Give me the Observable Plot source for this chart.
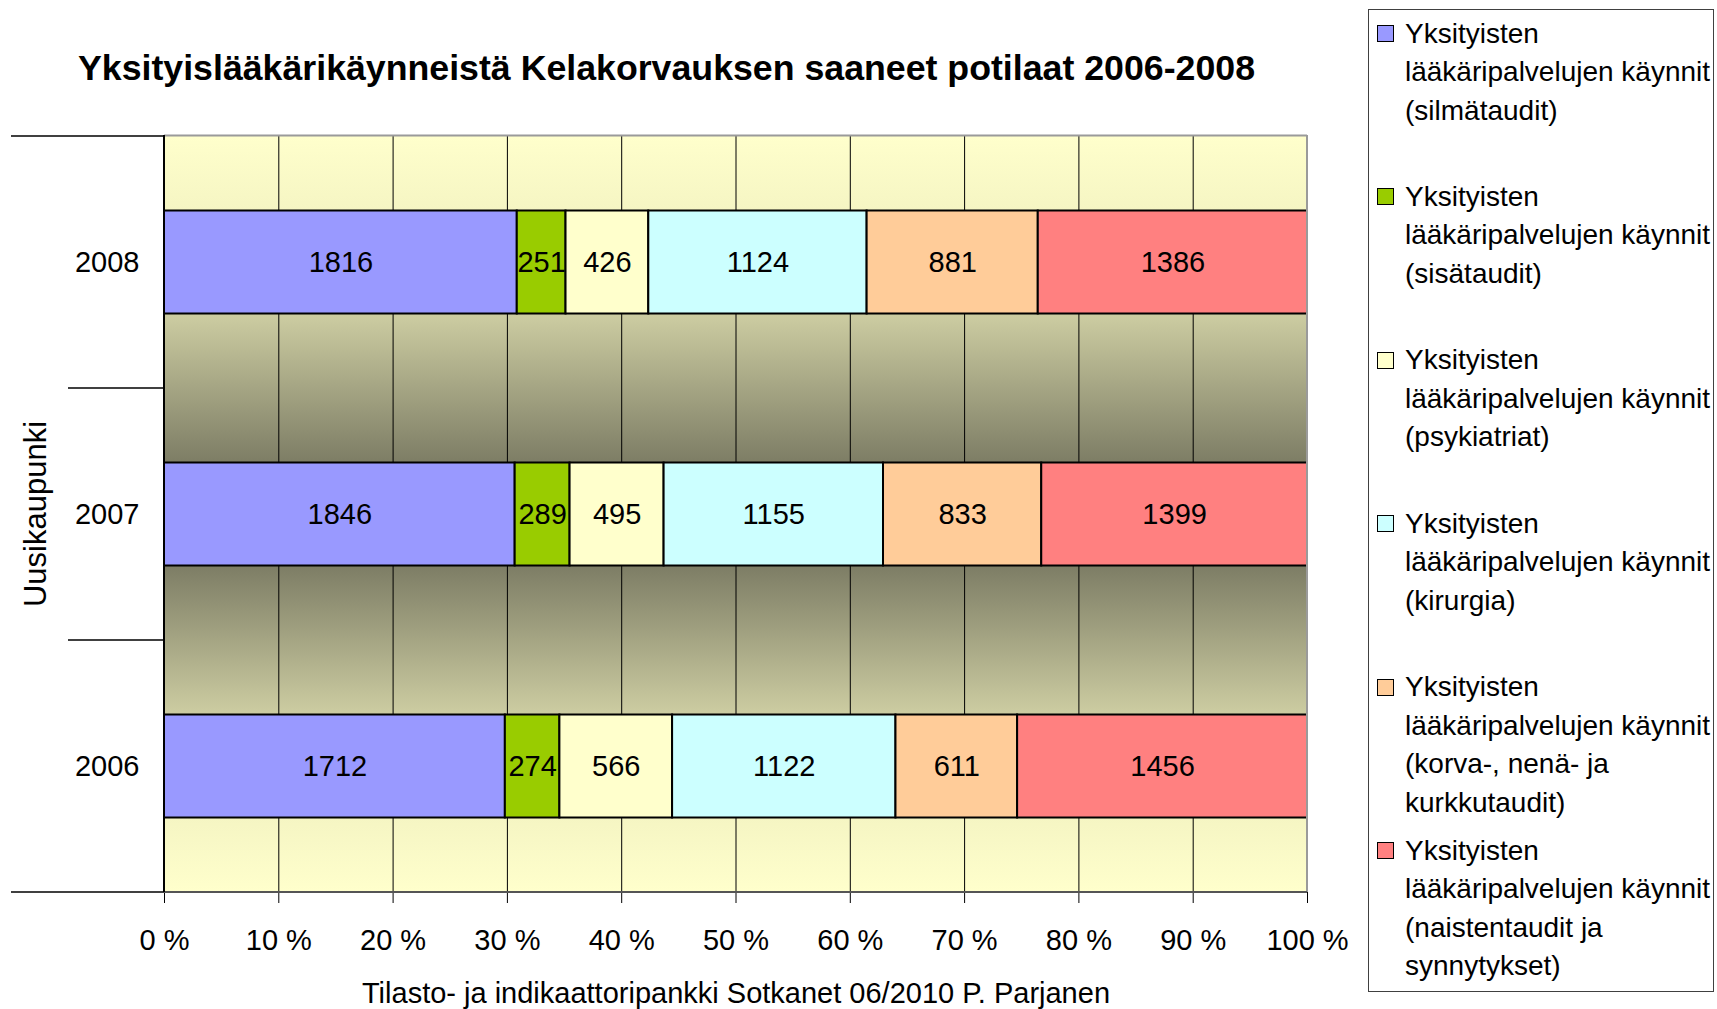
<!DOCTYPE html>
<html><head><meta charset="utf-8">
<script src="https://cdn.jsdelivr.net/npm/d3@7"></script>
<script src="https://cdn.jsdelivr.net/npm/@observablehq/plot@0.6"></script>
<style>
html,body{margin:0;padding:0;background:#fff;}
#wrap{position:relative;width:1717px;height:1009px;overflow:hidden;font-family:'Liberation Sans',Arial,sans-serif;color:#000;}
#title{position:absolute;left:78px;top:50px;font-weight:bold;font-size:35px;line-height:35px;white-space:nowrap;transform-origin:0 0;}
#chart{position:absolute;left:0;top:110px;}
#legend{position:absolute;left:1368px;top:9px;width:346px;height:983px;box-sizing:border-box;border:1px solid #404040;}
.item{position:absolute;left:0;width:344px;}
.sw{position:absolute;left:8px;top:10.5px;width:17px;height:17px;box-sizing:border-box;border:1.5px solid #000;}
.lt{position:absolute;left:36px;top:0;width:312px;font-size:28px;line-height:38.5px;}
</style></head>
<body>
<div id="wrap">
  <div id="title"></div>
  <div id="chart"></div>
  <div id="legend"></div>
</div>
<script>
// ---- data ----
const titleText = "Yksityislääkärikäynneistä Kelakorvauksen saaneet potilaat 2006-2008";
const yLabel = "Uusikaupunki";
const caption = "Tilasto- ja indikaattoripankki Sotkanet 06/2010 P. Parjanen";
const years = ["2008", "2007", "2006"];
const categories = [
  "Yksityisten lääkäripalvelujen käynnit (silmätaudit)",
  "Yksityisten lääkäripalvelujen käynnit (sisätaudit)",
  "Yksityisten lääkäripalvelujen käynnit (psykiatriat)",
  "Yksityisten lääkäripalvelujen käynnit (kirurgia)",
  "Yksityisten lääkäripalvelujen käynnit (korva-, nenä- ja kurkkutaudit)",
  "Yksityisten lääkäripalvelujen käynnit (naistentaudit ja synnytykset)"
];
const silmataudit   = [1816, 1846, 1712];
const sisataudit    = [251, 289, 274];
const psykiatriat   = [426, 495, 566];
const kirurgia      = [1124, 1155, 1122];
const korvaNenaKurkku = [881, 833, 611];
const naistentaudit = [1386, 1399, 1456];
const xTicks = [0, 0.1, 0.2, 0.3, 0.4, 0.5, 0.6, 0.7, 0.8, 0.9, 1];

const series = [silmataudit, sisataudit, psykiatriat, kirurgia, korvaNenaKurkku, naistentaudit];
const data = categories.flatMap((c, i) => years.map((y, j) => ({year: y, cat: c, value: series[i][j]})));

const palette = ["#9999FF", "#99CC00", "#FFFFCC", "#CCFFFF", "#FFCC99", "#FF8080"];
const BAR_INSET = 74.5;

// title
const t = document.getElementById("title");
t.textContent = titleText;
const tw = t.getBoundingClientRect().width;
t.style.transform = `scaleX(${1177 / tw})`;

// background gradients derived from y scale
function backdrop(index, scales, values, dims) {
  const y = scales.y;
  const bw = y.bandwidth();
  const x0 = dims.marginLeft, x1 = dims.width - dims.marginRight;
  const top = dims.marginTop, bottom = dims.height - dims.marginBottom;
  const g = d3.create("svg:g");
  const defs = g.append("defs");
  const edges = [top];
  years.forEach(yr => { edges.push(y(yr) + BAR_INSET); edges.push(y(yr) + bw - BAR_INSET); });
  edges.push(bottom);
  const stops = [["#FFFFCC", "#F5F5C3"], ["#CDCDA2", "#7D7D65"], ["#7D7D65", "#CDCDA2"], ["#F5F5C3", "#FFFFCC"]];
  for (let k = 0; k < 4; k++) {
    const ya = edges[2 * k], yb = edges[2 * k + 1];
    const id = "bgGrad" + k;
    const lg = defs.append("linearGradient").attr("id", id)
      .attr("gradientUnits", "userSpaceOnUse").attr("x1", 0).attr("x2", 0).attr("y1", ya).attr("y2", yb);
    lg.append("stop").attr("offset", 0).attr("stop-color", stops[k][0]);
    lg.append("stop").attr("offset", 1).attr("stop-color", stops[k][1]);
    const ra = k === 0 ? top : y(years[k - 1]) + bw / 2;
    const rb = k === 3 ? bottom : y(years[k]) + bw / 2;
    g.append("rect").attr("x", x0).attr("width", x1 - x0).attr("y", ra).attr("height", rb - ra)
      .attr("fill", `url(#${id})`);
  }
  return g.node();
}

function frameLines(index, scales, values, dims) {
  const y = scales.y;
  const bw = y.bandwidth();
  const x0 = dims.marginLeft, x1 = dims.width - dims.marginRight;
  const top = dims.marginTop, bottom = dims.height - dims.marginBottom;
  const g = d3.create("svg:g").attr("fill", "none");
  g.append("line").attr("x1", x0).attr("x2", x1).attr("y1", top + 0.5).attr("y2", top + 0.5).attr("stroke", "#9a9a9a").attr("stroke-width", 2);
  g.append("line").attr("x1", x1).attr("x2", x1).attr("y1", top).attr("y2", bottom).attr("stroke", "#9a9a9a").attr("stroke-width", 2);
  g.append("line").attr("x1", x0).attr("x2", x1).attr("y1", bottom).attr("y2", bottom).attr("stroke", "#555").attr("stroke-width", 2);
  g.append("line").attr("x1", x0).attr("x2", x0).attr("y1", top).attr("y2", bottom).attr("stroke", "#000").attr("stroke-width", 2);
  // category axis tick lines at band boundaries
  const bounds = years.map(yr => y(yr)).concat([y(years[years.length - 1]) + bw]);
  bounds.forEach((b, i) => {
    const outer = i === 0 || i === bounds.length - 1;
    g.append("line").attr("x1", x0 - (outer ? 153 : 96)).attr("x2", x0).attr("y1", b).attr("y2", b)
      .attr("stroke", "#000").attr("stroke-width", 1.3);
  });
  return g.node();
}

const chart = Plot.plot({
  width: 1360,
  height: 899,
  marginTop: 25,
  marginBottom: 117,
  marginLeft: 164,
  marginRight: 53,
  style: {fontFamily: "'Liberation Sans', Arial, sans-serif", fontSize: "29px", background: "none", overflow: "visible", color: "#000"},
  x: {domain: [0, 1], ticks: xTicks, tickFormat: d => `${Math.round(d * 100)} %`, tickSize: 11, tickPadding: 26, label: null},
  y: {domain: years, padding: 0, tickSize: 0, tickPadding: 25, label: null},
  color: {domain: categories, range: palette},
  marks: [
    backdrop,
    Plot.ruleX(xTicks, {stroke: "#000", strokeWidth: 1}),
    Plot.barX(data, Plot.stackX({x: "value", y: "year", z: "cat", fill: "cat", offset: "normalize",
      stroke: "#000", strokeWidth: 2, insetTop: BAR_INSET, insetBottom: BAR_INSET})),
    Plot.text(data, Plot.stackX({x: "value", y: "year", z: "cat", offset: "normalize",
      text: d => String(d.value), fill: "#000", fontSize: 29})),
    frameLines,
    Plot.text([yLabel], {frameAnchor: "left", dx: -128, rotate: -90, textAnchor: "middle", text: d => d, fontSize: 31, fill: "#000"}),
    Plot.text([caption], {frameAnchor: "bottom", dy: 90, lineAnchor: "top", text: d => d, fontSize: 29, fill: "#000"})
  ]
});
document.getElementById("chart").appendChild(chart);

// legend
const legend = d3.select("#legend");
categories.forEach((c, i) => {
  const it = legend.append("div").attr("class", "item").style("top", (4.5 + i * 163.4) + "px");
  it.append("div").attr("class", "sw").style("background", palette[i]);
  it.append("div").attr("class", "lt").text(c);
});
</script>
</body></html>
